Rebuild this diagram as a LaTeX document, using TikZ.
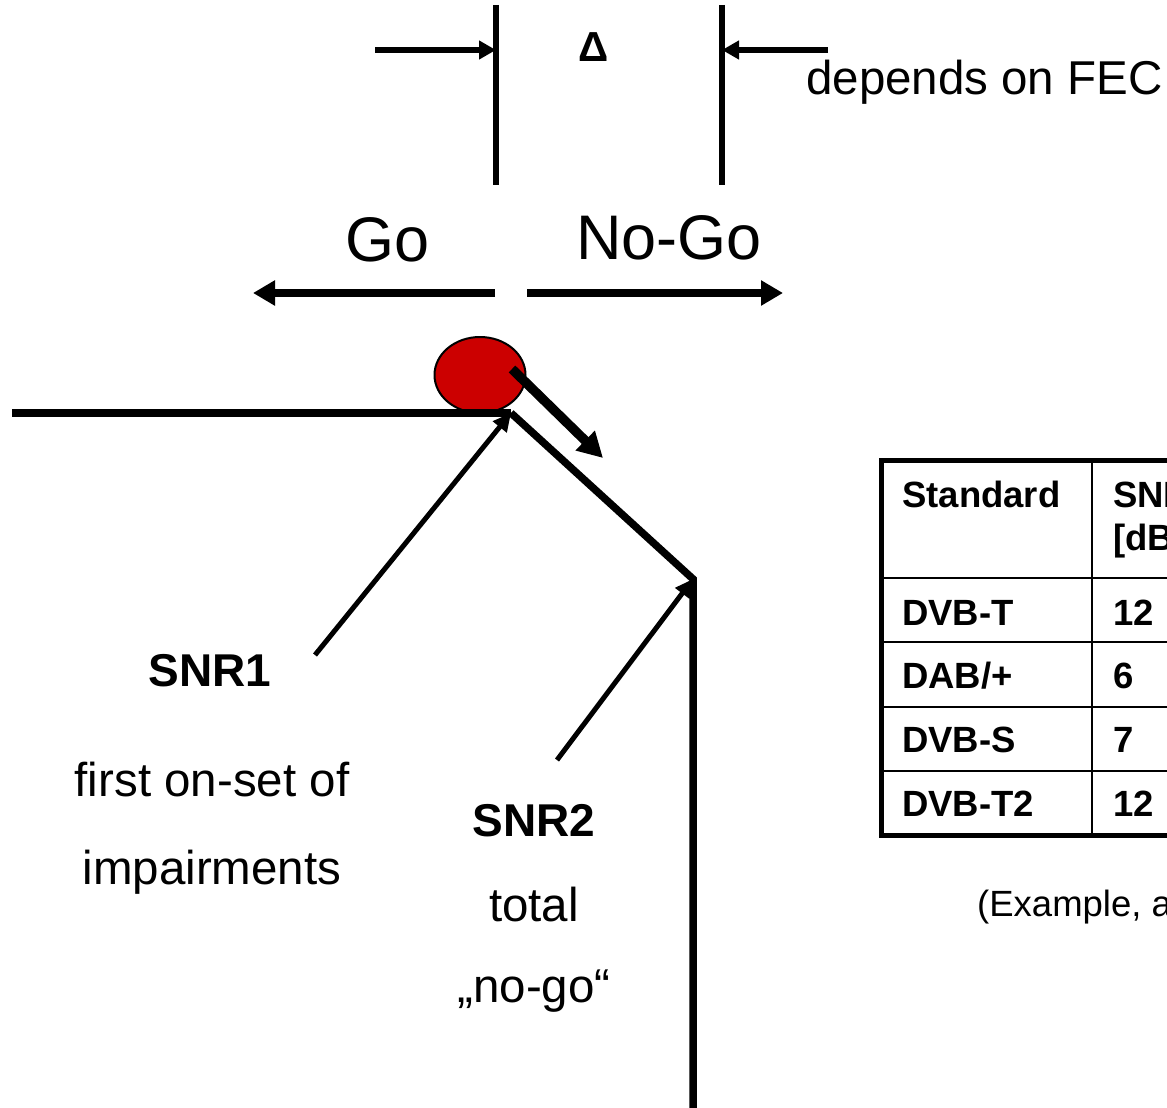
\documentclass[tikz,border=0pt]{standalone}
\usepackage{fontspec}
\setmainfont{Liberation Sans}
\usetikzlibrary{arrows.meta,shapes.geometric}
\definecolor{ballred}{RGB}{204,0,0}
\begin{document}
\begin{tikzpicture}[x=1pt, y=-1pt,
    txt/.style={font=\fontsize{47.5}{56}\selectfont, inner sep=0pt, anchor=base},
    bold/.style={font=\fontsize{46}{54}\selectfont\bfseries, inner sep=0pt, anchor=base},
    big/.style={font=\fontsize{63}{70}\selectfont, inner sep=0pt, anchor=base},
    cell/.style={font=\fontsize{36.5}{44}\selectfont\bfseries, inner sep=0pt, anchor=base west},
    thin arrow/.style={line width=5.5pt, -{Triangle[length=17pt,width=18pt]}},
    fat arrow/.style={line width=7.5pt, -{Triangle[length=22pt,width=24pt]}},
    snr arrow/.style={line width=5pt, -{Triangle[length=18pt,width=17pt]}},
    marker/.style={line width=6pt}]
   \useasboundingbox (0,0) rectangle (1167,1108);
   \clip (0,0) rectangle (1167,1108);

   % FEC window
   \coordinate (L1) at (496,5);  \coordinate (L2) at (496,185);
   \coordinate (R1) at (722,5);  \coordinate (R2) at (722,185);
   \draw[marker] (L1) -- (L2);
   \draw[marker] (R1) -- (R2);
   \coordinate (la) at (375,50);
   \coordinate (ra) at (828,50);
   \draw[thin arrow] (la) -- (la -| L1);
   \draw[thin arrow] (ra) -- (ra -| R1);
   \node[font=\fontsize{42}{48}\selectfont\bfseries, inner sep=0pt, anchor=base] (delta) at (594,62) {Δ};
   \node[txt, anchor=base west] (fec) at (806,94) {depends on FEC};

   % go / no-go
   \node[big] (go) at (388,261) {Go};
   \node[big] (nogo) at (669,259) {No-Go};
   \coordinate (g1) at (495,293);  \coordinate (g2) at (253,293);
   \coordinate (n1) at (527,293);  \coordinate (n2) at (783,293);
   \draw[fat arrow] (g1) -- (g2);
   \draw[fat arrow] (n1) -- (n2);

   % ball on the edge
   \node[draw, fill=ballred, ellipse, line width=2pt, minimum width=91pt,
         minimum height=76pt, inner sep=0pt] (ball) at (480,375) {};
   \coordinate (r1) at (512,369);
   \coordinate (r2) at (603,458);
   \draw[line width=9.5pt, -{Triangle[length=25pt,width=26pt]}] (r1) -- (r2);

   % the curve
   \coordinate (k1) at (12,413);
   \coordinate (k2) at (511,413);
   \coordinate (k3) at (693,579);
   \coordinate (k4) at (693,1115);
   \draw[line width=7.5pt] (k1) -- (k2);
   \draw[line width=7.5pt] (k2) -- (k3) -- (k4);

   % SNR1
   \node[bold] (snr1) at (210,686) {SNR1};
   \node[txt] (onset) at (212,796) {first on-set of};
   \node[txt] (impair) at (212,884) {impairments};
   \coordinate (s1) at (315,655);
   \draw[snr arrow] (s1) -- (k2);

   % SNR2
   \node[bold] (snr2) at (534,836) {SNR2};
   \node[txt] (total) at (534,921) {total};
   \node[txt] (quote) at (534,1002) {„no-go“};
   \coordinate (s2) at (557,760);
   \draw[snr arrow] (s2) -- (k3);

   % table
   \draw[line width=5pt] (1180,460) -| (881,835) -- (1180,835);
   \draw[line width=2pt] (1092,460) -- (1092,835);
   \foreach \r in {578,642,707,771}
     \draw[line width=2pt] (881,\r) -- (1180,\r);
   \node[cell] (head1) at (902,507) {Standard};
   \node[cell] (head2) at (1113,507) {SNR};
   \node[cell] (head3) at (1113,550) {[dB]};
   \foreach \y/\s/\v in {625/DVB-T/12, 688/{DAB/+}/6, 752/DVB-S/7, 816/DVB-T2/12}
   {
     \node[cell] (std-\y) at (902,\y) {\s};
     \node[cell] (val-\y) at (1113,\y) {\v};
   }
   \node[font=\fontsize{36.5}{44}\selectfont, inner sep=0pt, anchor=base west] (note) at (977,916) {(Example, a};
\end{tikzpicture}
\end{document}
